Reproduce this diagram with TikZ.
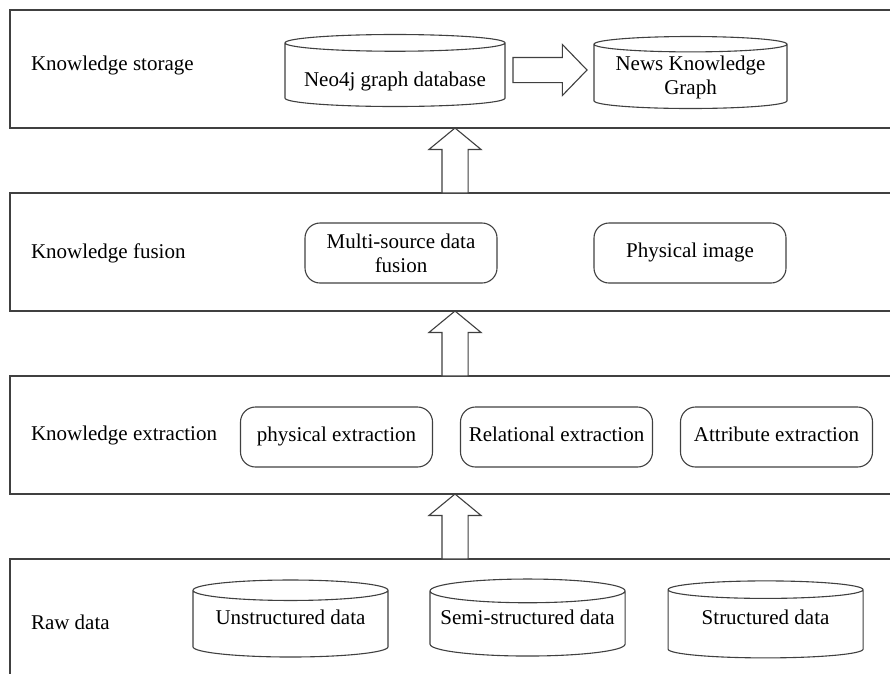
\documentclass[tikz,border=0pt]{standalone}
\usepackage{fontspec}
\setmainfont{Liberation Serif}
\definecolor{frame}{RGB}{64,64,64}
\definecolor{paper}{RGB}{255,255,255}
\usetikzlibrary{
  shapes.geometric, % cylinders for the data stores
  shapes.arrows,    % hollow block arrows between layers
  positioning       % positions like below of node
}
\tikzset{
  node distance=65pt and 28pt,
  every node/.style = {
    font=\fontsize{21}{24}\selectfont,
    outer sep=0pt,
    inner sep=2pt
  },
  layer/.append style = {draw=frame, line width=1.4pt, rectangle, minimum width=890pt, minimum height=118pt},
  caption/.append style = {anchor=west},
  store/.append style = {draw=frame, fill=paper, line width=1.1pt, cylinder, shape border rotate=90,
    aspect=0.133, minimum width=195pt, minimum height=77pt, align=center},
  lowstore/.append style = {store, text height=14pt, text depth=14pt},
  task/.append style = {draw=frame, line width=1.1pt, rectangle, rounded corners=15pt,
    minimum width=192pt, minimum height=60pt, align=center},
  onetask/.append style = {task, text height=14pt, text depth=4.5pt},
  liftarrow/.append style = {draw=frame, fill=paper, line width=1.1pt, single arrow, rotate=90,
    inner xsep=0pt, inner ysep=12.5pt, single arrow head extend=13pt, single arrow tip angle=101,
    minimum height=65pt},
  pusharrow/.append style = {liftarrow, rotate=-90, inner ysep=12pt, single arrow tip angle=92,
    minimum height=74pt}
}

\begin{document}
\begin{tikzpicture}[x=1pt, y=-1pt]
\clip (0,0) rectangle (890,673);

% layers, bottom one runs off the page
\node[layer] (storage) at (455,69) {};
\node[layer, below=of storage] (fusion) {};
\node[layer, below=of fusion] (extraction) {};
\node[layer, below=of extraction] (raw) {};

\node[caption] (storagecap) at (29,65) {Knowledge storage};
\node[caption] (fusioncap) at (29,253) {Knowledge fusion};
\node[caption] (extractioncap) at (29,435) {Knowledge extraction};
\node[caption] (rawcap) at (29,622) {Raw data};

% knowledge storage
\node[store, anchor=shape center, minimum width=220pt, minimum height=72pt, aspect=0.09,
  text height=27pt] (neo) at (395,70.5) {Neo4j graph database};
\node[pusharrow, anchor=tail] (push) at (513,70) {};
\node[store, anchor=shape center, minimum width=193pt, minimum height=72pt, aspect=0.1] (news)
  at (690.5,72.5) {News Knowledge\\Graph};

% knowledge fusion
\node[task] (multi) at (401,253) {Multi-source data\\fusion};
\node[onetask] (image) at (690,253) {Physical image};

% knowledge extraction
\node[onetask] (physical) at (336.5,437) {physical extraction};
\node[onetask, right=of physical] (relational) {Relational extraction};
\node[onetask, right=of relational] (attribute) {Attribute extraction};

% raw data
\node[lowstore, anchor=shape center] (unstructured) at (290.5,618.5) {Unstructured data};
\node[lowstore, right=42pt of unstructured] (semi) {Semi-structured data};
\node[lowstore, right=43pt of semi] (structured) {Structured data};

% lifting between layers
\node[liftarrow, anchor=tail] (lift1) at (fusion.north) {};
\node[liftarrow, anchor=tail] (lift2) at (extraction.north) {};
\node[liftarrow, anchor=tail] (lift3) at (raw.north) {};
\end{tikzpicture}
\end{document}
